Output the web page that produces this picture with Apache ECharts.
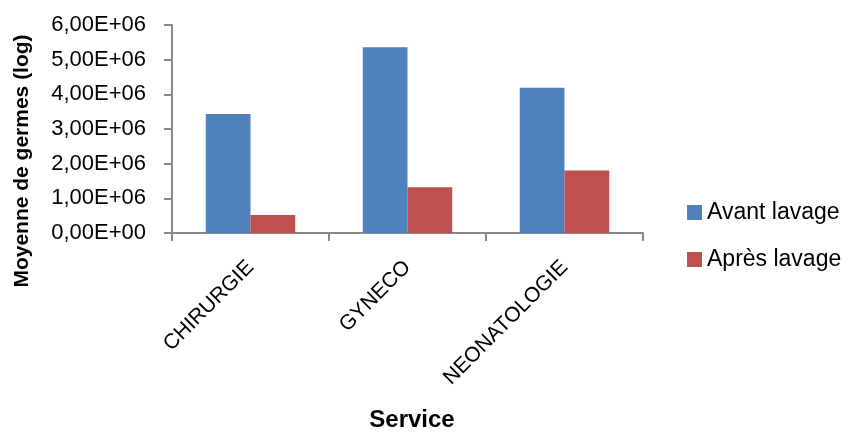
<!DOCTYPE html>
<html>
<head>
<meta charset="utf-8">
<script src="https://cdn.jsdelivr.net/npm/echarts@6/dist/echarts.min.js"></script>
<style>
  html, body { margin: 0; padding: 0; background: #fff; overflow: hidden; }
  #chart { width: 847px; height: 433px; }
</style>
</head>
<body>
<div id="chart"></div>
<script>
// Services hospitaliers et moyenne de germes avant / après lavage
const categories = ['CHIRURGIE', 'GYNECO', 'NEONATOLOGIE'];
const avantLavage = [3.43e6, 5.36e6, 4.19e6];
const apresLavage = [0.52e6, 1.32e6, 1.80e6];
const seriesNames = ['Avant lavage', 'Après lavage'];
const yTicks = { min: 0, max: 6e6, interval: 1e6 };
const yTitle = 'Moyenne de germes (log)';
const xTitle = 'Service';

const FONT = '"Liberation Sans", Arial, sans-serif';

// Format scientifique à la française : 1,00E+06
function sciFr(v) {
  if (v === 0) return '0,00E+00';
  const e = Math.floor(Math.log10(Math.abs(v)) + 1e-9);
  const m = v / Math.pow(10, e);
  const sign = e >= 0 ? '+' : '-';
  const ee = String(Math.abs(e)).padStart(2, '0');
  return m.toFixed(2).replace('.', ',') + 'E' + sign + ee;
}

const chart = echarts.init(document.getElementById('chart'), null, { renderer: 'canvas', width: 847, height: 433 });

chart.setOption({
  animation: false,
  backgroundColor: '#ffffff',
  textStyle: { fontFamily: FONT, color: '#000' },
  grid: { left: 172, right: 204, top: 25, bottom: 200, containLabel: false },
  legend: {
    orient: 'vertical',
    left: 682,
    top: 196,
    itemWidth: 15,
    itemHeight: 15,
    itemGap: 24,
    icon: 'rect',
    textStyle: { fontFamily: FONT, fontSize: 23, color: '#000' },
    data: seriesNames
  },
  graphic: [
    {
      type: 'text',
      x: 22,
      y: 161,
      rotation: Math.PI / 2,
      style: {
        text: yTitle,
        fontFamily: FONT,
        fontSize: 21,
        fontWeight: 'bold',
        fill: '#000',
        align: 'center',
        verticalAlign: 'middle'
      }
    },
    {
      type: 'text',
      x: 412,
      y: 420,
      style: {
        text: xTitle,
        fontFamily: FONT,
        fontSize: 24,
        fontWeight: 'bold',
        fill: '#000',
        align: 'center',
        verticalAlign: 'middle'
      }
    }
  ],
  xAxis: {
    type: 'category',
    data: categories,
    axisLine: { lineStyle: { color: '#898989', width: 2 } },
    axisTick: { show: true, length: 8, lineStyle: { color: '#898989', width: 2 } },
    axisLabel: { rotate: 45, fontSize: 21, color: '#000', margin: 31, fontFamily: FONT },
    splitLine: { show: false }
  },
  yAxis: {
    type: 'value',
    min: yTicks.min,
    max: yTicks.max,
    interval: yTicks.interval,
    axisLine: { show: true, lineStyle: { color: '#898989', width: 2 } },
    axisTick: { show: true, length: 8, lineStyle: { color: '#898989', width: 2 } },
    axisLabel: { fontSize: 22, color: '#000', margin: 26, fontFamily: FONT, formatter: sciFr },
    splitLine: { show: false }
  },
  series: [
    {
      name: seriesNames[0],
      type: 'bar',
      data: avantLavage,
      barGap: '0%',
      barCategoryGap: '43%',
      itemStyle: { color: '#4F81BD' }
    },
    {
      name: seriesNames[1],
      type: 'bar',
      data: apresLavage,
      itemStyle: { color: '#C0504D' }
    }
  ]
});
</script>
</body>
</html>
